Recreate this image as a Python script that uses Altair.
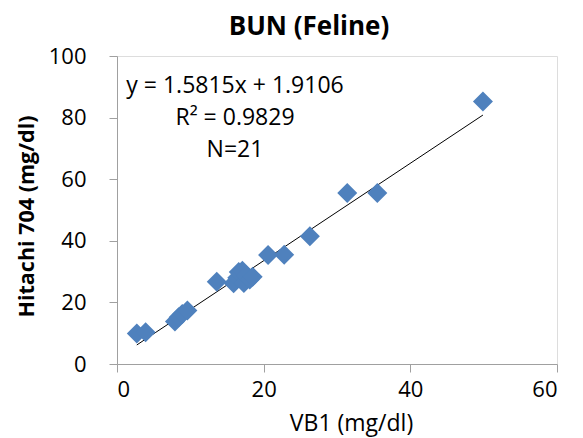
import altair as alt
import pandas as pd

# Data
vb1 = [2.7, 3.9, 7.9, 8.4, 8.9, 9.6, 13.6,
       15.9, 16.4, 16.6, 17.1, 17.3, 17.6, 18.1, 18.5,
       20.6, 22.8, 26.3, 31.4, 35.5, 49.9]
hitachi = [9.9, 10.3, 13.8, 15.2, 16.2, 17.4, 26.7,
           26.2, 28.0, 29.9, 30.3, 26.3, 28.8, 27.4, 28.3,
           35.4, 35.5, 41.5, 55.5, 55.5, 85.2]
x_ticks = [0, 20, 40, 60]
y_ticks = [0, 20, 40, 60, 80, 100]
slope = 1.5815
intercept = 1.9106
r_squared = 0.9829
n_points = 21

FONT = "Open Sans"
GRAY = "#a0a0a0"

pts = pd.DataFrame({"x": vb1, "y": hitachi})
xmin, xmax = min(vb1), max(vb1)
fit = pd.DataFrame({"x": [xmin, xmax],
                    "y": [slope * xmin + intercept, slope * xmax + intercept]})

xscale = alt.Scale(domain=[0, 60], nice=False, zero=False)
yscale = alt.Scale(domain=[0, 100], nice=False, zero=False)

xaxis = alt.Axis(values=x_ticks, title="VB1 (mg/dl)", grid=False,
                 domainColor=GRAY, tickColor=GRAY, tickSize=8,
                 labelFont=FONT, labelFontSize=22, labelColor="#000",
                 labelPadding=7, titleFont=FONT, titleFontSize=23,
                 titleFontWeight="normal", titleColor="#000",
                 titleBaseline="alphabetic", titleX=234, titleY=66)
yaxis = alt.Axis(values=y_ticks, title="Hitachi 704 (mg/dl)", grid=False,
                 domainColor=GRAY, tickColor=GRAY, tickSize=8,
                 labelFont=FONT, labelFontSize=22, labelColor="#000",
                 labelPadding=23, titleFont=FONT, titleFontSize=21.5,
                 titleFontWeight="bold", titleColor="#000",
                 titleBaseline="alphabetic", titleX=-84, titleY=160)

points = alt.Chart(pts).mark_point(shape="diamond", filled=True, size=400,
                                   color="#4F81BD", opacity=1).encode(
    x=alt.X("x:Q", scale=xscale, axis=xaxis),
    y=alt.Y("y:Q", scale=yscale, axis=yaxis),
)

line = alt.Chart(fit).mark_line(color="#000000", strokeWidth=1).encode(
    x=alt.X("x:Q", scale=xscale),
    y=alt.Y("y:Q", scale=yscale),
)

ann_lines = [
    f"y = {slope}x + {intercept}",
    f"R² = {r_squared}",
    f"N={n_points}",
]
texts = []
for i, t in enumerate(ann_lines):
    texts.append(
        alt.Chart(pd.DataFrame({"t": [t]})).mark_text(
            font=FONT, fontSize=23, color="#000", align="center",
            baseline="alphabetic"
        ).encode(text="t:N", x=alt.value(118), y=alt.value(37 + 32 * i))
    )

chart = alt.layer(line, points, *texts).properties(
    width=440, height=308,
    title=alt.Title("BUN (Feline)", font=FONT, fontSize=26, fontWeight="bold",
                    color="#000", anchor="middle", dx=-28, dy=26,
                    baseline="alphabetic", offset=10),
    autosize=alt.AutoSizeParams(type="none"),
    padding={"left": 109, "top": 48, "right": 18, "bottom": 74},
).configure_view(stroke=GRAY, strokeWidth=1).configure(background="white")

chart.save("out.html", embed_options={"renderer": "svg", "actions": False})
